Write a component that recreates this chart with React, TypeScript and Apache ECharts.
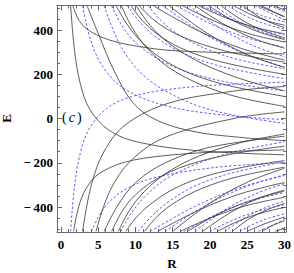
import React, { useEffect, useRef } from "react";
import * as echarts from "echarts";

type Curve = [number, number][];

// Descending levels (enter from the top), solid black
const blackDown: Curve[] = [
  [[1.3, 510], [1.82, 308], [2.6, 157], [3.9, 40], [6.5, -54], [10.4, -107], [18.2, -145], [30, -164]],
  [[1.6, 510], [2.24, 455], [3.2, 413], [4.8, 378], [7, 350], [9.7, 330], [14, 310], [20, 300], [30, 292]],
  [[3.5, 510], [5.1, 377], [7, 225], [9.7, 70], [13, -10], [18, -60], [24, -85], [30, -100]],
  [[7.4, 510], [9, 420], [11, 340], [14, 260], [18, 195], [23, 145], [30, 100]],
  [[8.1, 510], [9.5, 415], [11.5, 320], [14.5, 230], [19, 150], [24, 95], [30, 55]],
  [[9.4, 510], [11, 440], [13, 380], [16, 320], [20, 270], [25, 230], [30, 200]],
  [[10.1, 510], [12, 420], [14.5, 340], [18, 265], [22, 205], [26, 160], [30, 125]],
  [[10.5, 510], [12.5, 445], [15, 390], [19, 335], [24, 290], [30, 255]],
  [[12.4, 510], [18.3, 399], [24.1, 318], [30, 264]],
  [[14.5, 510], [19.7, 384], [24.8, 292], [30, 231]],
  [[16.3, 510], [20.9, 436], [25.4, 382], [30, 346]],
  [[18, 510], [22, 424], [26, 360], [30, 318]],
  [[18.5, 510], [22.3, 453], [26.2, 411], [30, 383]],
  [[19.8, 510], [23.2, 441], [26.6, 391], [30, 357]],
  [[21.5, 510], [24.3, 445], [27.2, 397], [30, 365]],
  [[23.2, 510], [25.5, 470], [27.7, 441], [30, 422]],
  [[24.5, 510], [26.3, 465], [28.2, 433], [30, 411]],
  [[26.5, 510], [28.2, 486], [30, 461]],
  [[27, 510], [28.5, 483], [30, 459]],
  [[28.5, 510], [30, 492]],
];

// Descending levels, blue dashed
const blueDown: Curve[] = [
  [[2.9, 510], [4.06, 347], [5.8, 225], [8.7, 130], [14.5, 54], [23.2, 11], [30, -5]],
  [[5.8, 510], [8.12, 321], [11.6, 180], [17.4, 70], [23.2, 15], [30, -22]],
  [[6.8, 510], [8.2, 420], [10, 345], [13, 270], [17, 210], [23, 160], [30, 125]],
  [[8.9, 510], [10.5, 440], [12.5, 375], [15.5, 310], [20, 250], [25, 210], [30, 180]],
  [[11.7, 510], [13.5, 440], [16, 375], [19.5, 315], [24, 265], [30, 225]],
  [[13.7, 510], [19.1, 385], [24.6, 294], [30, 233]],
  [[15.5, 510], [20.3, 425], [25.2, 363], [30, 321]],
  [[17.2, 510], [21.5, 406], [25.7, 331], [30, 280]],
  [[19, 510], [22.7, 451], [26.3, 407], [30, 378]],
  [[20.6, 510], [23.7, 442], [26.9, 393], [30, 360]],
  [[22.4, 510], [24.9, 462], [27.5, 427], [30, 404]],
  [[24, 510], [26, 478], [28, 454], [30, 438]],
  [[26, 510], [28, 479], [30, 446]],
  [[28, 510], [30, 484]],
  [[29.5, 510], [30, 503]],
];

// Ascending levels (enter from the bottom), solid black
const blackUp: Curve[] = [
  [[1.7, -510], [2.38, -399], [3.4, -315], [5.1, -250], [8.5, -198], [13.6, -169], [20, -153], [30, -142]],
  [[2.9, -510], [4.06, -303], [5.8, -148], [8.7, -27], [14.5, 70], [23.2, 124], [30, 145]],
  [[4.7, -510], [6.58, -327], [9.4, -190], [14.1, -83], [23.5, 2], [30, 30]],
  [[5.8, -510], [7.5, -400], [10, -290], [14, -200], [20, -130], [30, -80]],
  [[6.8, -510], [8.2, -420], [10, -345], [13, -270], [17, -210], [23, -160], [30, -125]],
  [[7.7, -510], [9.2, -415], [11.2, -330], [14.2, -245], [18.5, -170], [24, -110], [30, -70]],
  [[8.7, -510], [10.3, -440], [12.3, -380], [15.3, -315], [19.5, -260], [24.5, -220], [30, -190]],
  [[11.2, -510], [13, -440], [15.5, -375], [19, -315], [23.5, -265], [30, -220]],
  [[13, -510], [18.7, -411], [24.3, -338], [30, -289]],
  [[15, -510], [20, -382], [25, -288], [30, -225]],
  [[16, -510], [20.7, -441], [25.3, -390], [30, -356]],
  [[17, -510], [21.3, -428], [25.7, -368], [30, -328]],
  [[19, -510], [22.7, -426], [26.3, -364], [30, -323]],
  [[21, -510], [24, -461], [27, -426], [30, -402]],
  [[23, -510], [25.3, -453], [27.7, -412], [30, -384]],
  [[25, -510], [27.5, -474], [30, -445]],
  [[27, -510], [28.5, -482], [30, -462]],
  [[28.8, -510], [30, -494]],
];

// Ascending levels, blue dashed
const blueUp: Curve[] = [
  [[1.3, -510], [1.82, -308], [2.6, -157], [3.9, -40], [6.5, 54], [10.4, 107], [18.2, 145], [30, 164]],
  [[4.1, -510], [5.74, -407], [8.2, -330], [12.3, -270], [20.5, -222], [30, -199]],
  [[8, -510], [9.5, -425], [11.5, -345], [14.5, -265], [19, -195], [24, -145], [30, -105]],
  [[10.4, -510], [12.2, -440], [14.7, -370], [18, -305], [22.5, -250], [30, -195]],
  [[12, -510], [18, -397], [24, -313], [30, -258]],
  [[14, -510], [19.3, -395], [24.7, -310], [30, -254]],
  [[16.5, -510], [21, -431], [25.5, -373], [30, -334]],
  [[18, -510], [22, -413], [26, -342], [30, -294]],
  [[20, -510], [23.3, -456], [26.7, -416], [30, -390]],
  [[22, -510], [24.7, -449], [27.3, -404], [30, -374]],
  [[24, -510], [26, -475], [28, -449], [30, -432]],
  [[26.5, -510], [28.2, -485], [30, -457]],
  [[29, -510], [30, -497]],
];

const xMajor = [0, 5, 10, 15, 20, 25, 30];
const xMinor = [1, 2, 3, 4, 6, 7, 8, 9, 11, 12, 13, 14, 16, 17, 18, 19, 21, 22, 23, 24, 26, 27, 28, 29];
const yMajor = [-400, -200, 0, 200, 400];
const yMinor = [-500, -450, -350, -300, -250, -150, -100, -50, 50, 100, 150, 250, 300, 350, 450, 500];

const X_MIN = -0.53;
const X_MAX = 30.22;
const Y_MIN = -513;
const Y_MAX = 511;

const FONT = '"Liberation Serif", "Times New Roman", "DejaVu Serif", serif';
const FRAME = "#6a6a6a";

export default function App() {
  const ref = useRef<HTMLDivElement>(null);

  useEffect(() => {
    if (!ref.current) return;
    const chart = echarts.init(ref.current, undefined, { renderer: "svg" });

    const mkX = (position: string, ticks: number[], len: number, labels: boolean, line: boolean) => ({
      type: "value",
      position,
      min: X_MIN,
      max: X_MAX,
      axisLine: { show: line, onZero: false, lineStyle: { color: FRAME, width: 1 } },
      axisTick: { show: true, inside: true, length: len, customValues: ticks, lineStyle: { color: FRAME, width: 1 } },
      axisLabel: labels
        ? { show: true, customValues: ticks, fontFamily: FONT, fontWeight: "bold", fontSize: 13, color: "#000", margin: 6 }
        : { show: false },
      splitLine: { show: false },
    });
    const mkY = (position: string, ticks: number[], len: number, labels: boolean, line: boolean) => ({
      type: "value",
      position,
      min: Y_MIN,
      max: Y_MAX,
      axisLine: { show: line, onZero: false, lineStyle: { color: FRAME, width: 1 } },
      axisTick: { show: true, inside: true, length: len, customValues: ticks, lineStyle: { color: FRAME, width: 1 } },
      axisLabel: labels
        ? {
            show: true,
            customValues: ticks,
            fontFamily: FONT,
            fontWeight: "bold",
            fontSize: 13,
            color: "#000",
            margin: 4,
            formatter: (v: number) => (v < 0 ? "\u2212\u2009" + -v : String(v)),
          }
        : { show: false },
      splitLine: { show: false },
    });

    const series: any[] = [];
    const add = (curves: Curve[], color: string, dashed: boolean) => {
      curves.forEach((c) =>
        series.push({
          type: "line",
          data: c,
          xAxisIndex: 0,
          yAxisIndex: 0,
          showSymbol: false,
          smooth: 0.35,
          clip: true,
          silent: true,
          lineStyle: dashed
            ? { color, width: 0.9, type: [2.5, 2] }
            : { color, width: 0.8, type: "solid" },
        })
      );
    };
    add(blueDown, "#4b4bff", true);
    add(blueUp, "#4b4bff", true);
    add(blackDown, "#333333", false);
    add(blackUp, "#333333", false);

    chart.setOption({
      animation: false,
      backgroundColor: "#ffffff",
      grid: { left: 57, top: 5.5, right: 4.3, bottom: 41, containLabel: false },
      xAxis: [
        mkX("bottom", xMajor, 5, true, true),
        mkX("bottom", xMinor, 3, false, false),
        mkX("top", xMajor, 5, false, true),
        mkX("top", xMinor, 3, false, false),
      ],
      yAxis: [
        mkY("left", yMajor, 5, true, true),
        mkY("left", yMinor, 3, false, false),
        mkY("right", yMajor, 5, false, true),
        mkY("right", yMinor, 3, false, false),
      ],
      series,
      graphic: [
        {
          type: "text",
          x: 6,
          y: 118.5,
          rotation: Math.PI / 2,
          style: { text: "E", fontFamily: FONT, fontWeight: "bold", fontSize: 13, fill: "#000", align: "center", verticalAlign: "middle" },
        },
        {
          type: "text",
          x: 172,
          y: 263,
          style: { text: "R", fontFamily: FONT, fontWeight: "bold", fontSize: 13, fill: "#000", align: "center", verticalAlign: "middle" },
        },
        {
          type: "text",
          x: 62,
          y: 117.5,
          style: {
            text: "{p|(}{c|c}{p|)}",
            verticalAlign: "middle",
            align: "left",
            rich: {
              p: { fontFamily: FONT, fontSize: 14, fill: "#000" },
              c: { fontFamily: FONT, fontSize: 14, fontStyle: "italic", fill: "#000", padding: [0, 2, 0, 2] },
            },
          },
        },
      ],
    });

    return () => chart.dispose();
  }, []);

  return (
    <div
      ref={ref}
      style={{ position: "absolute", left: 0, top: 0, width: 294, height: 273, background: "#fff" }}
    />
  );
}
